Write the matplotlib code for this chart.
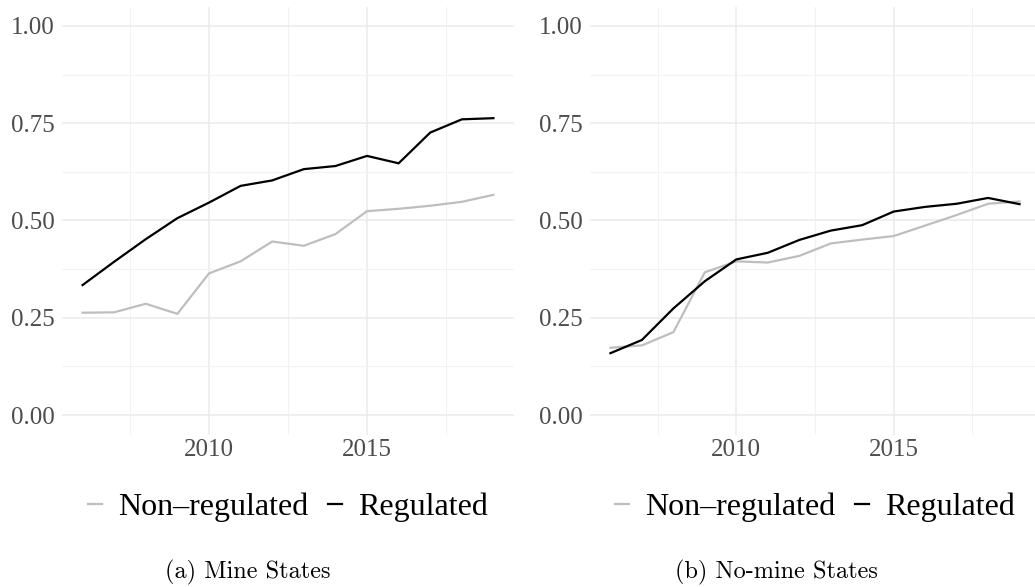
import numpy as np
import matplotlib
matplotlib.use("Agg")
import matplotlib.pyplot as plt
from matplotlib.ticker import MultipleLocator, FixedLocator

years = list(range(2006, 2020))

# share of plants by group, mine states
mine_regulated = [0.334, 0.394, 0.452, 0.506, 0.546, 0.589, 0.603,
                  0.632, 0.640, 0.666, 0.647, 0.726, 0.760, 0.763]
mine_nonregulated = [0.263, 0.264, 0.286, 0.260, 0.364, 0.395, 0.446,
                     0.435, 0.465, 0.524, 0.530, 0.538, 0.548, 0.566]

# no-mine states
nomine_regulated = [0.159, 0.193, 0.274, 0.344, 0.400, 0.417, 0.450,
                    0.474, 0.488, 0.523, 0.535, 0.543, 0.558, 0.542]
nomine_nonregulated = [0.173, 0.179, 0.213, 0.367, 0.395, 0.392, 0.409,
                       0.441, 0.451, 0.460, 0.487, 0.514, 0.543, 0.549]

y_ticks = [0.0, 0.25, 0.5, 0.75, 1.0]
y_ticklabels = ["0.00", "0.25", "0.50", "0.75", "1.00"]
x_ticks = [2010, 2015]
labels = ["Non\u2013regulated", "Regulated"]
captions = ["(a) Mine States", "(b) No-mine States"]

GREY = "#BEBEBE"
TICK_COL = "#4D4D4D"
W, H = 1035, 587

fig = plt.figure(figsize=(W / 100, H / 100), dpi=100)


def panel(rect, nonreg, reg, caption, cap_x):
    ax = fig.add_axes(rect)
    ax.plot(years, nonreg, color=GREY, lw=1.6, label=labels[0])
    ax.plot(years, reg, color="black", lw=1.6, label=labels[1])
    ax.set_xlim(2005.35, 2019.65)
    ax.set_ylim(-0.05, 1.05)
    ax.xaxis.set_major_locator(FixedLocator(x_ticks))
    ax.xaxis.set_minor_locator(FixedLocator([2007.5, 2012.5, 2017.5]))
    ax.yaxis.set_major_locator(FixedLocator(y_ticks))
    ax.set_yticklabels(y_ticklabels)
    ax.yaxis.set_minor_locator(FixedLocator([0.125, 0.375, 0.625, 0.875]))
    ax.grid(which="major", color="#EBEBEB", lw=1.1)
    ax.grid(which="minor", color="#F2F2F2", lw=0.8)
    ax.set_axisbelow(True)
    for s in ax.spines.values():
        s.set_visible(False)
    ax.tick_params(which="both", length=0)
    ax.tick_params(axis="y", pad=5, labelsize=18, labelcolor=TICK_COL)
    ax.tick_params(axis="x", pad=3, labelsize=18, labelcolor=TICK_COL)
    for t in ax.get_xticklabels() + ax.get_yticklabels():
        t.set_fontfamily("Liberation Serif")
    leg = ax.legend(loc="center", bbox_to_anchor=(0.5, (H - 507 - rect[1] * H) / (rect[3] * H)),
                    ncol=2, frameon=False, handlelength=0.45, handletextpad=0.5,
                    columnspacing=0.6, prop={"family": "Liberation Serif", "size": 23})
    for line in leg.get_lines():
        line.set_linewidth(1.6)
    fig.text(cap_x / W, 1 - 572 / H, caption, ha="center", va="center",
             family="cmr10", fontsize=17.5)
    return ax


bottom = (H - 434.5) / H
height = 428 / H
panel([62 / W, bottom, 452 / W, height], mine_nonregulated, mine_regulated,
      captions[0], 248)
panel([590 / W, bottom, 450 / W, height], nomine_nonregulated, nomine_regulated,
      captions[1], 776)

fig.savefig("out.png", dpi=100)
